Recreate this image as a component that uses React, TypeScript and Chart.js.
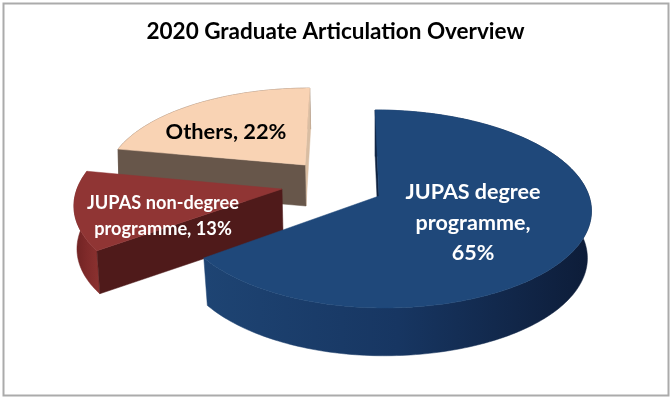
import React, { useEffect, useRef } from "react";
import { Chart, registerables } from "chart.js";

Chart.register(...registerables);

const TITLE = "2020 Graduate Articulation Overview";
const categories = ["JUPAS degree programme", "JUPAS non-degree programme", "Others"];
const shares = [65, 13, 22];
const topColors = ["#1F487A", "#903534", "#F9D3B4"];

const labelLines = [
  ["JUPAS degree", "programme,", "65%"],
  ["JUPAS non-degree", "programme, 13%"],
  ["Others, 22%"],
];

// How each exploded wedge sits in the tilted view.
const VANISH_X = 346;
const TILT = 0.131;
const views = [
  {
    top: { x: 379, y: 196, a: 210, left: 203, b: 97.3 },
    bottom: { x: 379, y: 243, a: 206, left: 199, b: 98 },
    rim: ["#1E4473", "#173662", "#0D1C38"],
    startWall: "#0F2240",
    endWall: null as string | null,
  },
  {
    top: { x: 282, y: 189, a: 205, left: 205, b: 97 },
    bottom: { x: 283, y: 232, a: 203, left: 203, b: 97 },
    rim: ["#6E2222", "#7F2A2A", "#8C3230"],
    startWall: "#4F1A1A",
    endWall: null as string | null,
  },
  {
    top: { x: 305, y: 165, a: 196, left: 196, b: 87 },
    bottom: { x: 306, y: 206, a: 196, left: 196, b: 87 },
    rim: ["#67564A", "#67564A", "#67564A"],
    startWall: "#67564A",
    endWall: "#D9BDA2",
  },
];
const labelStyles = [
  { x: 473, ys: [192, 223, 253], size: 21.5, color: "#FFFFFF" },
  { x: 163, ys: [203, 229], size: 18.2, color: "#FFFFFF" },
  { x: 226, ys: [132], size: 21.8, color: "#000000" },
];

type Plane = { x: number; y: number; a: number; left: number; b: number };

function project(p: Plane, theta: number) {
  const u = Math.sin(theta);
  const v = Math.cos(theta);
  const w = 1 + TILT * v;
  return {
    x: VANISH_X + (p.x - VANISH_X + (u < 0 ? p.left : p.a) * u) / w,
    y: p.y - (p.b * v) / w,
  };
}

function rimPoints(p: Plane, start: number, end: number) {
  const out: { x: number; y: number }[] = [];
  const steps = Math.max(8, Math.ceil((end - start) / 0.02));
  for (let i = 0; i <= steps; i++) out.push(project(p, start + ((end - start) * i) / steps));
  return out;
}

function fillPoly(ctx: CanvasRenderingContext2D, pts: { x: number; y: number }[], fill: string | CanvasGradient) {
  ctx.beginPath();
  pts.forEach((q, i) => (i ? ctx.lineTo(q.x, q.y) : ctx.moveTo(q.x, q.y)));
  ctx.closePath();
  ctx.fillStyle = fill;
  ctx.fill();
  ctx.strokeStyle = fill;
  ctx.lineWidth = 0.5;
  ctx.stroke();
}

const tiltedPie = {
  id: "tiltedPie",
  beforeDraw(chart: any) {
    const ctx = chart.ctx as CanvasRenderingContext2D;
    ctx.save();
    ctx.strokeStyle = "#ABABAB";
    ctx.lineWidth = 2;
    ctx.strokeRect(3.5, 3.5, 665, 392);
    ctx.restore();
  },
  beforeDatasetsDraw(chart: any) {
    const ctx = chart.ctx as CanvasRenderingContext2D;
    const arcs = chart.getDatasetMeta(0).data;
    const order = [2, 1, 0];
    ctx.save();
    for (const i of order) {
      const arc = arcs[i];
      const view = views[i];
      const start = arc.startAngle + Math.PI / 2;
      const end = arc.endAngle + Math.PI / 2;
      const topRim = rimPoints(view.top, start, end);
      const botRim = rimPoints(view.bottom, start, end);
      const xs = [...topRim, ...botRim].map((q) => q.x);
      const grad = ctx.createLinearGradient(Math.min(...xs), 0, Math.max(...xs), 0);
      view.rim.forEach((c, k) => grad.addColorStop(k / (view.rim.length - 1), c));
      fillPoly(ctx, [...topRim, ...[...botRim].reverse()], grad);

      const topC = { x: view.top.x, y: view.top.y };
      const botC = { x: view.bottom.x, y: view.bottom.y };
      if (view.endWall)
        fillPoly(ctx, [topC, topRim[topRim.length - 1], botRim[botRim.length - 1], botC], view.endWall);
      if (view.startWall) fillPoly(ctx, [topC, topRim[0], botRim[0], botC], view.startWall);
      fillPoly(ctx, [topC, ...topRim], arc.options.backgroundColor);
    }
    ctx.restore();
    return false;
  },
  afterDraw(chart: any) {
    const ctx = chart.ctx as CanvasRenderingContext2D;
    ctx.save();
    ctx.textAlign = "center";
    ctx.textBaseline = "middle";
    labelLines.forEach((lines, i) => {
      const s = labelStyles[i];
      ctx.font = `bold ${s.size}px Lato`;
      ctx.fillStyle = s.color;
      lines.forEach((line, k) => ctx.fillText(line, s.x, s.ys[k]));
    });
    ctx.restore();
  },
};

export default function App() {
  const ref = useRef<HTMLCanvasElement>(null);
  useEffect(() => {
    const chart = new Chart(ref.current!, {
      type: "pie",
      data: {
        labels: categories,
        datasets: [{ data: shares, backgroundColor: topColors, borderWidth: 0 }],
      },
      options: {
        animation: false,
        responsive: false,
        devicePixelRatio: 1,
        layout: { padding: 0 },
        plugins: {
          legend: { display: false },
          tooltip: { enabled: false },
          title: {
            display: true,
            text: TITLE,
            color: "#000000",
            font: { family: "Lato", size: 22.5, weight: "bold" },
            padding: { top: 18, bottom: 10 },
          },
        },
      },
      plugins: [tiltedPie],
    } as any);
    return () => chart.destroy();
  }, []);
  return (
    <canvas
      ref={ref}
      width={671}
      height={401}
      style={{ position: "absolute", left: 0, top: 0, display: "block", background: "#FFFFFF" }}
    />
  );
}
